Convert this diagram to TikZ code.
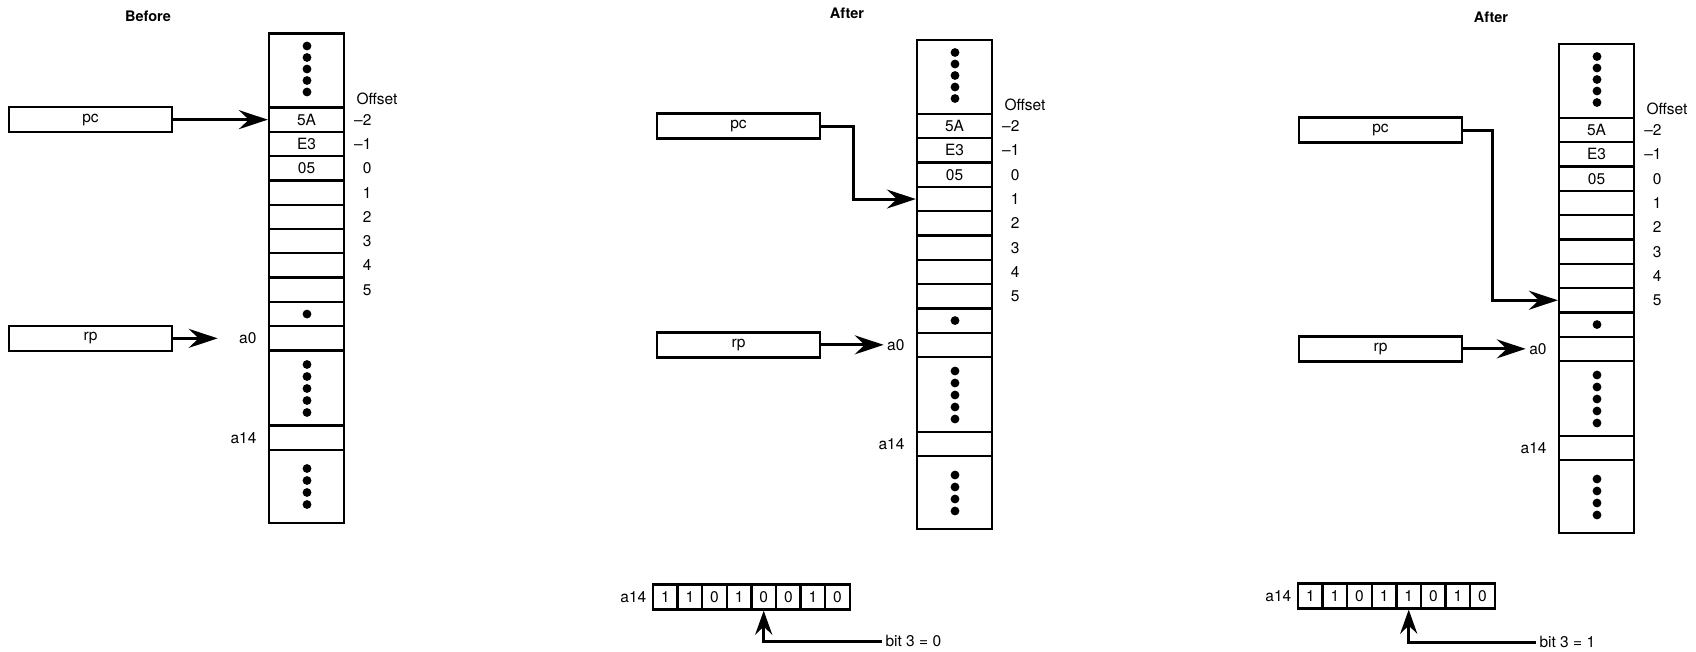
\documentclass[tikz,border=0pt]{standalone}
\usepackage{fontspec}
\setmainfont{TeX Gyre Heros}
\usetikzlibrary{arrows.meta, positioning}

\begin{document}
\begin{tikzpicture}[x=1pt, y=-1pt,
  >={Stealth[length=29pt, width=19pt, inset=10pt]},
  every node/.style={font=\fontsize{15.5}{18}\selectfont},
  cell/.style={rectangle, draw, line width=2.3pt, minimum width=75pt,
               minimum height=24.3pt, inner sep=0pt},
  reg/.style={rectangle, draw, line width=2.5pt, minimum width=163pt,
              minimum height=25pt, inner sep=0pt},
  bitbox/.style={rectangle, draw, line width=2.3pt, minimum width=24.6pt,
                 minimum height=25pt, inner sep=0pt},
  arr/.style={->, line width=3pt},
  bitarr/.style={-{Stealth[length=24pt, width=17pt, inset=8pt]}, line width=3pt},
  ttl/.style={font=\bfseries\fontsize{14.5}{17}\selectfont}
]
\useasboundingbox (0,0) rectangle (1696,651);

%% ---- Memory columns (b = before, m = after 1, r = after 2) ----
\foreach \p/\cx/\cy in {b/269/33.5, m/917/40, r/1559/44} {
  \begin{scope}[shift={(\cx,\cy)}]
    \node[cell, minimum height=74pt] (\p-top) at (37.5,37) {};
    \foreach \k in {0,...,9}
      \node[cell] (\p-c\k) at (37.5,86.15+24.3*\k) {};
    \node[cell, minimum height=75pt] (\p-mid) at (37.5,354.5) {};
    \node[cell] (\p-c14) at (37.5,404.15) {};
    \node[cell, minimum height=73pt] (\p-bot) at (37.5,452.8) {};
    % contents
    \node at (\p-c0) {5A};
    \node at (\p-c1) {E3};
    \node at (\p-c2) {05};
    \fill (38,280.55) circle (4.4pt);
    \foreach \d in {12.5,24,35.5,47,58.5} \fill (38,\d) circle (4.4pt);
    \foreach \d in {331,343,355,367,379} \fill (38,\d) circle (4.4pt);
    \foreach \d in {435,447,459,471} \fill (38,\d) circle (4.4pt);
    % offsets
    \node[anchor=west] (\p-off) at (84,65) {Offset};
    \foreach \k/\o in {0/--2, 1/--1, 2/0, 3/1, 4/2, 5/3, 6/4, 7/5}
      \node[anchor=east] at (106,86.15+24.3*\k) {\o};
    % registers
    \node[reg] (\p-pc) at (-178.5,86.15) {pc};
    \node[reg] (\p-rp) at (-178.5,304.85) {rp};
    \node[anchor=east] (\p-a0) at (-9,304.85) {a0};
    \node[anchor=east] (\p-a14) at (-9,404.15) {a14};
  \end{scope}
}

%% ---- Titles ----
\node[ttl] (tbefore) at (148,16) {Before};
\node[ttl] (tafter1) at (847,13) {After};
\node[ttl] (tafter2) at (1491,17) {After};

%% ---- Before ----
\draw[arr] (b-pc.east) -- (b-c0.west);
\draw[arr, shorten >=18pt] (b-rp.east) -- (b-a0.west);

%% ---- After, bit 3 = 0 ----
\draw[arr] (m-pc.east) -- ++(32,0) |- (m-c3.west);
\draw[arr] (m-rp.east) -- (m-a0.west);
\foreach \b [count=\i from 0] in {1,1,0,1,0,0,1,0}
  \node[bitbox] (m-bit\i) at (665.3+24.6*\i,597) {\b};
\node[left=2pt of m-bit0] (m-reg) {a14};
\node[anchor=west] (m-bitlbl) at (882,641) {bit 3 = 0};
\draw[bitarr] (m-bitlbl.west) -| (m-bit4.south);

%% ---- After, bit 3 = 1 ----
\draw[arr] (r-pc.east) -- ++(29,0) |- (r-c7.west);
\draw[arr] (r-rp.east) -- (r-a0.west);
\foreach \b [count=\i from 0] in {1,1,0,1,1,0,1,0}
  \node[bitbox] (r-bit\i) at (1310.3+24.6*\i,596) {\b};
\node[left=2pt of r-bit0] (r-reg) {a14};
\node[anchor=west] (r-bitlbl) at (1536,642) {bit 3 = 1};
\draw[bitarr] (r-bitlbl.west) -| (r-bit4.south);

\end{tikzpicture}
\end{document}
